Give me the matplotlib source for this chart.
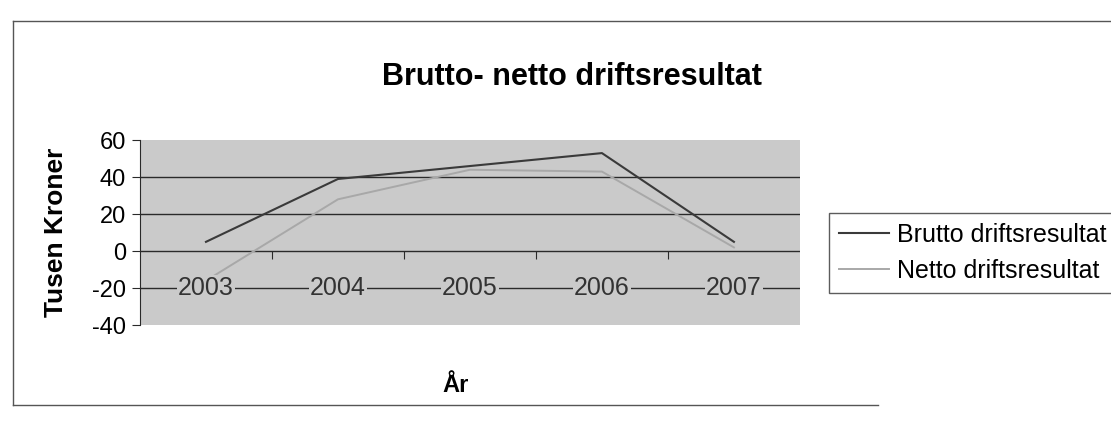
import numpy as np
import matplotlib.pyplot as plt
from matplotlib.lines import Line2D

plt.rcParams['font.family'] = ['Liberation Sans', 'DejaVu Sans']

years = ['2003', '2004', '2005', '2006', '2007']
brutto = [5, 39, 46, 53, 5]   # Brutto driftsresultat, tusen kroner
netto = [-16, 28, 44, 43, 2]   # Netto driftsresultat, tusen kroner
yticks = [-40, -20, 0, 20, 40, 60]

fig = plt.figure(figsize=(11.11, 4.26), dpi=100)
ax = fig.add_axes([0.126, 0.237, 0.594, 0.434])
ax.set_facecolor('#cacaca')

x = np.arange(len(years))
ax.plot(x, brutto, color='#3a3a3a', linewidth=1.5, label='Brutto driftsresultat')
ax.plot(x, netto, color='#a8a8a8', linewidth=1.4, label='Netto driftsresultat')

ax.set_xlim(-0.5, len(years) - 0.5)
ax.set_ylim(-40, 60)
ax.set_yticks(yticks)
ax.set_yticklabels([str(v) for v in yticks], fontsize=17)
for v in yticks[1:-1]:
    ax.axhline(v, color='#2a2a2a', linewidth=1.0, zorder=0.5)

# category axis through zero, tick marks between categories
for s in ['top', 'right']:
    ax.spines[s].set_visible(False)
ax.spines['bottom'].set_position(('data', 0))
ax.spines['bottom'].set_visible(False)
ax.spines['left'].set_color('#2a2a2a')
ax.set_xticks(np.arange(len(years) - 1) + 0.5)
ax.set_xticklabels([])
ax.tick_params(axis='x', direction='out', length=6, color='#2a2a2a')
ax.tick_params(axis='y', direction='out', length=6, color='#2a2a2a', pad=4)
for i, yr in enumerate(years):
    ax.text(i, -20, yr, ha='center', va='center', fontsize=18, color='#333333',
            bbox=dict(facecolor='#cacaca', edgecolor='none', pad=1))

ax.set_ylabel('Tusen Kroner', fontsize=19, fontweight='bold', labelpad=17)
fig.text(0.41, 0.095, 'År', ha='center', va='center', fontsize=17, fontweight='bold')
fig.text(0.515, 0.82, 'Brutto- netto driftsresultat', ha='center', va='center',
         fontsize=22, fontweight='bold')

leg = fig.legend(loc='upper left', bbox_to_anchor=(0.735, 0.53), fontsize=18,
                 frameon=True, fancybox=False, handlelength=2.0, borderpad=0.4,
                 labelspacing=0.5, handletextpad=0.3)
leg.get_frame().set_edgecolor('#333333')
leg.get_frame().set_linewidth(1.0)

# outer chart border
fig.add_artist(Line2D([0.012, 1.0], [0.95, 0.95], color='#555555', linewidth=1))
fig.add_artist(Line2D([0.012, 0.012], [0.95, 0.05], color='#555555', linewidth=1))
fig.add_artist(Line2D([0.012, 0.79], [0.05, 0.05], color='#555555', linewidth=1))

fig.savefig('out.png', dpi=100)
